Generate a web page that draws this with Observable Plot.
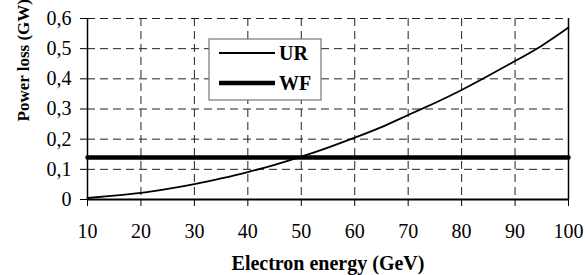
<!DOCTYPE html>
<html>
<head>
<meta charset="utf-8">
<script src="https://cdn.jsdelivr.net/npm/d3@7"></script>
<script src="https://cdn.jsdelivr.net/npm/@observablehq/plot@0.6"></script>
<style>
  html, body { margin: 0; padding: 0; background: white; }
</style>
</head>
<body>
<div id="chart"></div>
<script>
// Data
const energy = [10, 15, 20, 25, 30, 35, 40, 45, 50, 55, 60, 65, 70, 75, 80, 85, 90, 95, 100];
const urLoss = [0.005, 0.013, 0.022, 0.035, 0.051, 0.070, 0.091, 0.115, 0.142, 0.172, 0.205, 0.240, 0.280, 0.320, 0.363, 0.410, 0.459, 0.510, 0.570];
const wfEnergy = [10, 100];
const wfLoss = [0.139, 0.139];
const xTicks = [10, 20, 30, 40, 50, 60, 70, 80, 90, 100];
const yTicks = [0, 0.1, 0.2, 0.3, 0.4, 0.5, 0.6];
const seriesNames = ["UR", "WF"];
const xTitle = "Electron energy (GeV)";
const yTitle = "Power loss (GW)";

const ur = energy.map((e, i) => ({e, p: urLoss[i]}));
const wf = wfEnergy.map((e, i) => ({e, p: wfLoss[i]}));
const fmt = d => d === 0 ? "0" : d.toFixed(1).replace(".", ",");
const serif = "Times New Roman, Liberation Serif, Times, serif";

const chart = Plot.plot({
  width: 585,
  height: 275,
  marginLeft: 87,
  marginRight: 17,
  marginTop: 18,
  marginBottom: 76,
  style: {fontSize: "21px"},
  x: {domain: [10, 100]},
  y: {domain: [0, 0.6]},
  marks: [
    Plot.ruleY(yTicks.filter(d => d > 0), {stroke: "#222", strokeWidth: 1, strokeDasharray: "8,5"}),
    Plot.ruleX(xTicks.filter(d => d > 10 && d < 100), {stroke: "#222", strokeWidth: 1, strokeDasharray: "8,5"}),
    Plot.ruleX([10, 100], {stroke: "black", strokeWidth: 1.5}),
    Plot.ruleY([0], {stroke: "black", strokeWidth: 2}),
    Plot.axisX({ticks: xTicks, tickSize: 7, tickPadding: 17, tickFormat: d => String(d), label: null, fontSize: 20, fontVariant: "normal", stroke: "black"}),
    Plot.axisY({ticks: yTicks, tickSize: 7, tickPadding: 9, tickFormat: fmt, label: null, fontSize: 20, fontVariant: "normal", stroke: "black"}),
    Plot.line(wf, {x: "e", y: "p", stroke: "black", strokeWidth: 4.5}),
    Plot.line(ur, {x: "e", y: "p", stroke: "black", strokeWidth: 1.8, curve: "natural"}),
    Plot.text([xTitle], {text: d => d, frameAnchor: "bottom", lineAnchor: "middle", dy: 64, fontWeight: "bold", fontSize: 20}),
    Plot.text([yTitle], {text: d => d, frameAnchor: "left", lineAnchor: "middle", rotate: -90, dx: -64, dy: 12.5, fontWeight: "bold", fontSize: 17})
  ]
});

// Legend box inside the plot area
const svg = d3.select(chart);
const lg = svg.append("g").attr("text-anchor", "start");
lg.append("rect").attr("x", 209).attr("y", 39).attr("width", 112).attr("height", 61)
  .attr("fill", "white").attr("stroke", "#777").attr("stroke-width", 1.2);
const rows = [{y: 53, w: 1.8}, {y: 83, w: 4.5}];
rows.forEach((r, i) => {
  lg.append("line").attr("x1", 219).attr("x2", 275).attr("y1", r.y).attr("y2", r.y)
    .attr("stroke", "black").attr("stroke-width", r.w);
  lg.append("text").attr("x", 279).attr("y", r.y).attr("dy", "0.33em")
    .attr("text-anchor", "start")
    .attr("font-weight", "bold").attr("font-size", 20).attr("fill", "black")
    .text(seriesNames[i]);
});
// Serif face on the svg and on every text, as attributes
svg.attr("font-family", serif);
svg.selectAll("g").attr("font-family", null);
svg.selectAll("text").attr("font-family", serif);

document.getElementById("chart").appendChild(chart);
</script>
</body>
</html>
